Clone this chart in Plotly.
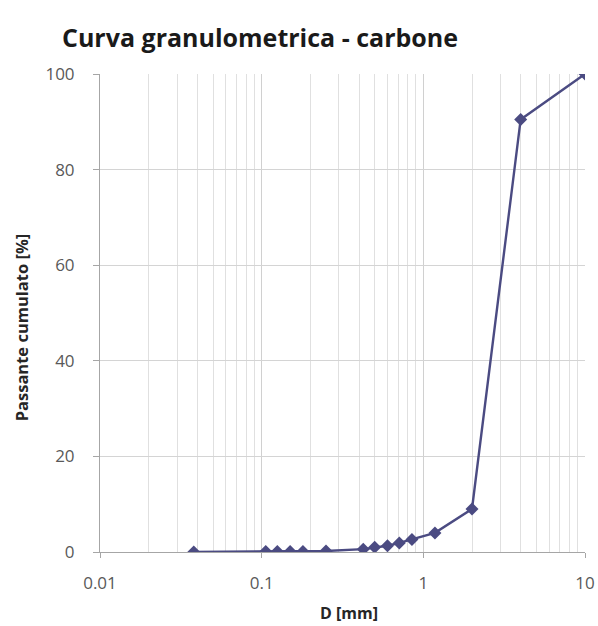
import plotly.graph_objects as go

# Data
diam_mm = [0.038, 0.106, 0.125, 0.15, 0.18, 0.25, 0.425, 0.5, 0.6, 0.71, 0.85, 1.18, 2, 4, 10]
passing_pct = [0.0, 0.1, 0.1, 0.1, 0.1, 0.2, 0.6, 1.0, 1.3, 1.9, 2.6, 4.0, 9.0, 90.5, 100.0]

x_tick_vals = [0.01, 0.1, 1, 10]
x_tick_text = ["0.01", "0.1", "1", "10"]
y_tick_vals = [0, 20, 40, 60, 80, 100]

title_text = "Curva granulometrica - carbone"
x_title = "D [mm]"
y_title = "Passante cumulato [%]"

line_color = "#4b4b82"
font_family = "'Open Sans', sans-serif"

fig = go.Figure()
fig.add_trace(go.Scatter(
    x=diam_mm, y=passing_pct,
    mode="lines+markers",
    line=dict(color=line_color, width=2.4),
    marker=dict(symbol="diamond", size=10, color=line_color),
    showlegend=False,
))

fig.update_layout(
    width=598, height=626,
    margin=dict(l=100, r=13, t=74, b=74),
    paper_bgcolor="white", plot_bgcolor="white",
    font=dict(family=font_family, color="#595959", size=17),
    title=dict(text="<b>" + title_text + "</b>",
               xref="container", x=260 / 598, xanchor="center",
               yref="container", y=1 - 38 / 626, yanchor="middle",
               font=dict(size=25, color="#1a1a1a", family=font_family)),
    xaxis=dict(
        type="log", range=[-2, 1], automargin=False,
        tickvals=x_tick_vals, ticktext=x_tick_text,
        showgrid=True, gridcolor="#d0d0d0", gridwidth=1,
        minor=dict(showgrid=True, gridcolor="#e0e0e0", gridwidth=1,
                   dtick="D1", ticks=""),
        ticks="outside", ticklen=5, tickcolor="#a6a6a6",
        ticklabelstandoff=11,
        showline=True, linecolor="#a6a6a6", linewidth=1, zeroline=False,
        tickfont=dict(size=17, color="#595959"),
    ),
    yaxis=dict(
        range=[0, 100], tickvals=y_tick_vals, automargin=False,
        showgrid=True, gridcolor="#d4d4d4", gridwidth=1,
        ticks="outside", ticklen=6, tickcolor="#a6a6a6",
        ticklabelstandoff=15,
        showline=True, linecolor="#a6a6a6", linewidth=1,
        zeroline=False,
        tickfont=dict(size=17, color="#595959"),
    ),
    annotations=[
        dict(text="<b>" + x_title + "</b>", xref="paper", yref="paper",
             x=0.513, y=0, yshift=-61, xanchor="center", yanchor="middle",
             showarrow=False, font=dict(size=16, color="#262626", family=font_family)),
        dict(text="<b>" + y_title + "</b>", xref="paper", yref="paper",
             x=0, xshift=-79, y=0.47, xanchor="center", yanchor="middle",
             textangle=-90, showarrow=False,
             font=dict(size=16.5, color="#262626", family=font_family)),
    ],
)

fig.write_html(
    "out.html",
    config={"displayModeBar": False},
    post_script="document.body.style.margin='0';document.body.style.overflow='hidden';",
)
